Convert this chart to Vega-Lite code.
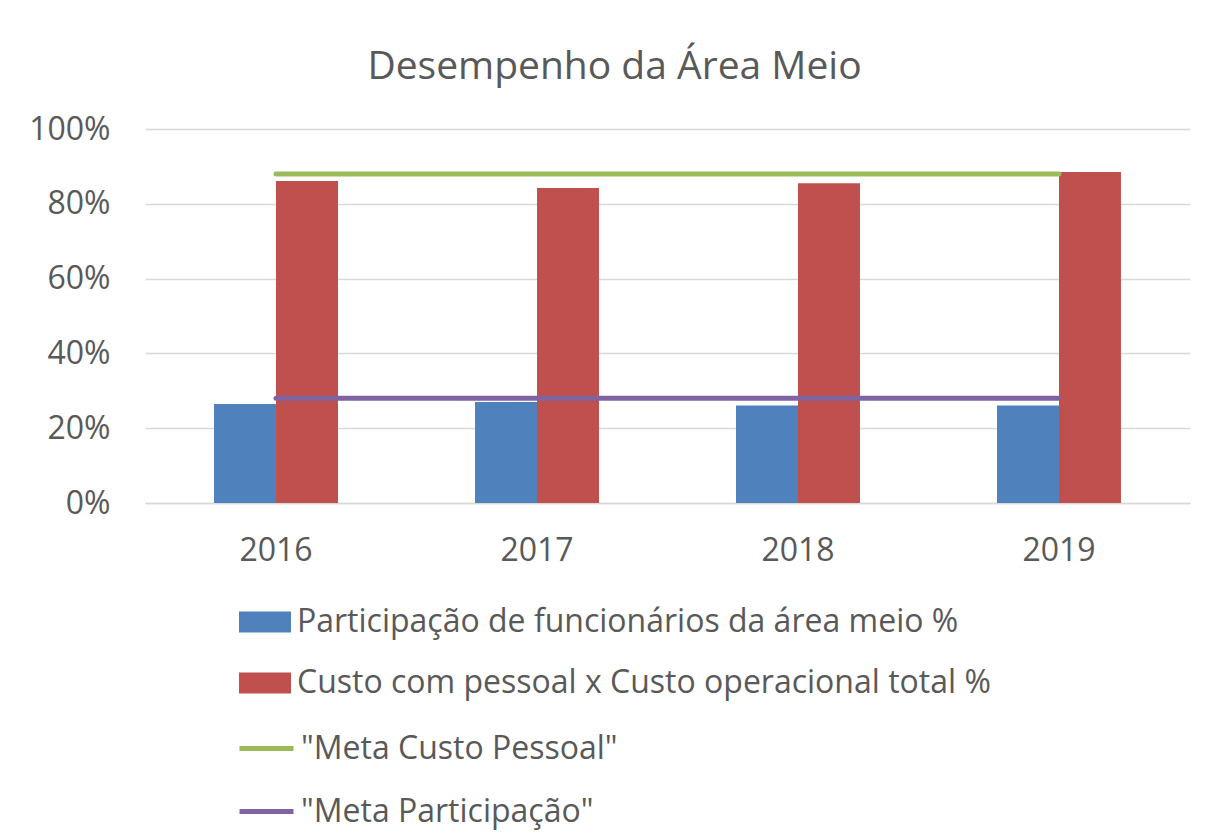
{
  "$schema": "https://vega.github.io/schema/vega-lite/v6.json",
  "width": 1045,
  "height": 374,
  "autosize": {"type": "none"},
  "padding": {"left": 145, "top": 129, "right": 18, "bottom": 336},
  "background": "white",
  "title": {
    "text": "Desempenho da Área Meio",
    "font": "Open Sans",
    "fontSize": 39,
    "fontWeight": "normal",
    "color": "#595959",
    "anchor": "middle",
    "dx": -53,
    "offset": 26
  },
  "config": {
    "view": {"stroke": null},
    "font": "Open Sans",
    "axis": {
      "labelFont": "Open Sans",
      "labelColor": "#595959",
      "labelFontSize": 32,
      "ticks": false,
      "title": null,
      "gridColor": "#d9d9d9",
      "gridWidth": 1.5,
      "domainColor": "#d9d9d9",
      "domainWidth": 1.5
    },
    "legend": {
      "labelFont": "Open Sans",
      "labelColor": "#595959",
      "labelFontSize": 32,
      "labelLimit": 0,
      "title": null,
      "orient": "none",
      "direction": "vertical"
    }
  },
  "data": {
    "values": [
      {"ano": "2016", "serie": "Participação de funcionários da área meio %", "tipo": "barra", "valor": 0.265},
      {"ano": "2017", "serie": "Participação de funcionários da área meio %", "tipo": "barra", "valor": 0.270},
      {"ano": "2018", "serie": "Participação de funcionários da área meio %", "tipo": "barra", "valor": 0.261},
      {"ano": "2019", "serie": "Participação de funcionários da área meio %", "tipo": "barra", "valor": 0.261},
      {"ano": "2016", "serie": "Custo com pessoal x Custo operacional total %", "tipo": "barra", "valor": 0.861},
      {"ano": "2017", "serie": "Custo com pessoal x Custo operacional total %", "tipo": "barra", "valor": 0.842},
      {"ano": "2018", "serie": "Custo com pessoal x Custo operacional total %", "tipo": "barra", "valor": 0.855},
      {"ano": "2019", "serie": "Custo com pessoal x Custo operacional total %", "tipo": "barra", "valor": 0.885},
      {"ano": "2016", "serie": "\"Meta Custo Pessoal\"", "tipo": "linha", "valor": 0.88},
      {"ano": "2017", "serie": "\"Meta Custo Pessoal\"", "tipo": "linha", "valor": 0.88},
      {"ano": "2018", "serie": "\"Meta Custo Pessoal\"", "tipo": "linha", "valor": 0.88},
      {"ano": "2019", "serie": "\"Meta Custo Pessoal\"", "tipo": "linha", "valor": 0.88},
      {"ano": "2016", "serie": "\"Meta Participação\"", "tipo": "linha", "valor": 0.28},
      {"ano": "2017", "serie": "\"Meta Participação\"", "tipo": "linha", "valor": 0.28},
      {"ano": "2018", "serie": "\"Meta Participação\"", "tipo": "linha", "valor": 0.28},
      {"ano": "2019", "serie": "\"Meta Participação\"", "tipo": "linha", "valor": 0.28}
    ]
  },
  "encoding": {
    "x": {
      "field": "ano",
      "type": "nominal",
      "scale": {"paddingInner": 0.525, "paddingOuter": 0.2645},
      "axis": {"labelAngle": 0, "labelPadding": 32, "grid": false, "domain": true}
    },
    "y": {
      "field": "valor",
      "type": "quantitative",
      "scale": {"domain": [0, 1], "nice": false},
      "axis": {"values": [0, 0.2, 0.4, 0.6, 0.8, 1], "format": ".0%", "labelPadding": 35, "domain": false, "grid": true}
    }
  },
  "layer": [
    {
      "transform": [{"filter": "datum.tipo == 'barra'"}],
      "mark": {"type": "bar"},
      "encoding": {
        "xOffset": {
          "field": "serie",
          "type": "nominal",
          "sort": ["Participação de funcionários da área meio %", "Custo com pessoal x Custo operacional total %"],
          "scale": {"paddingInner": 0, "paddingOuter": 0}
        },
        "color": {
          "field": "serie",
          "type": "nominal",
          "scale": {
            "domain": ["Participação de funcionários da área meio %", "Custo com pessoal x Custo operacional total %"],
            "range": ["#4F81BD", "#C0504D"]
          },
          "legend": {
            "legendX": 94,
            "legendY": 467,
            "symbolType": "M-1,-0.4L1,-0.4L1,0.4L-1,0.4Z",
            "symbolSize": 2704,
            "symbolStrokeWidth": 0,
            "labelOffset": 6,
            "rowPadding": 19
          }
        }
      }
    },
    {
      "transform": [{"filter": "datum.tipo == 'linha'"}],
      "mark": {"type": "line", "strokeWidth": 5, "strokeCap": "round"},
      "encoding": {
        "stroke": {
          "field": "serie",
          "type": "nominal",
          "scale": {
            "domain": ["\"Meta Custo Pessoal\"", "\"Meta Participação\""],
            "range": ["#9BBB59", "#8064A2"]
          },
          "legend": {
            "legendX": 92,
            "legendY": 590,
            "symbolType": "stroke",
            "symbolSize": 2916,
            "symbolStrokeWidth": 5,
            "labelOffset": 5,
            "rowPadding": 17
          }
        }
      }
    }
  ]
}
